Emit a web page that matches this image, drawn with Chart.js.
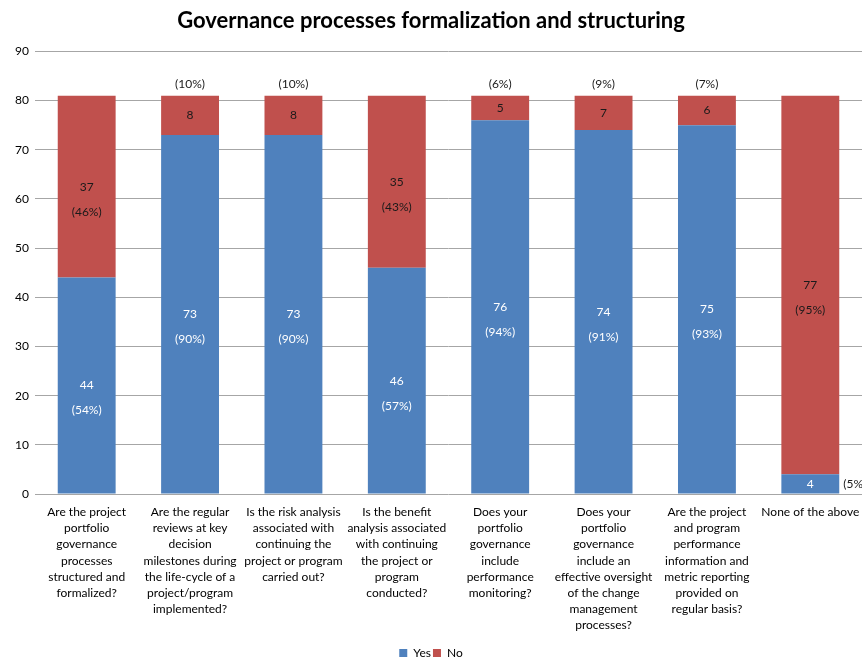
<!DOCTYPE html>
<html>
<head>
<meta charset="utf-8">
<script src="https://cdn.jsdelivr.net/npm/chart.js@4"></script>
<style>
  html, body { margin: 0; padding: 0; background: #fff; }
  #wrap { width: 862px; height: 657px; position: relative; }
</style>
</head>
<body>
<div id="wrap"><canvas id="c"></canvas></div>
<script>
const categories = [
  ["Are the project", "portfolio", "governance", "processes", "structured and", "formalized?"],
  ["Are the regular", "reviews at key", "decision", "milestones during", "the life-cycle of a", "project/program", "implemented?"],
  ["Is the risk analysis", "associated with", "continuing the", "project or program", "carried out?"],
  ["Is the benefit", "analysis associated", "with continuing", "the project or", "program", "conducted?"],
  ["Does your", "portfolio", "governance", "include", "performance", "monitoring?"],
  ["Does your", "portfolio", "governance", "include an", "effective oversight", "of the change", "management", "processes?"],
  ["Are the project", "and program", "performance", "information and", "metric reporting", "provided on", "regular basis?"],
  ["None of the above"]
];
const yesValues = [44, 73, 73, 46, 76, 74, 75, 4];
const noValues  = [37, 8, 8, 35, 5, 7, 6, 77];
const yesPercent = [54, 90, 90, 57, 94, 91, 93, 5];
const noPercent  = [46, 10, 10, 43, 6, 9, 7, 95];
const yTicks = [0, 10, 20, 30, 40, 50, 60, 70, 80, 90];

const FONT = "Lato, 'Liberation Sans', sans-serif";

const labelPlugin = {
  id: 'barLabels',
  afterDatasetsDraw(chart) {
    const ctx = chart.ctx;
    ctx.save();
    ctx.font = "12px " + FONT;
    ctx.textAlign = 'center';
    ctx.textBaseline = 'middle';
    chart.data.datasets.forEach((ds, di) => {
      const meta = chart.getDatasetMeta(di);
      const pcts = di === 0 ? yesPercent : noPercent;
      meta.data.forEach((bar, i) => {
        const top = Math.min(bar.y, bar.base);
        const bot = Math.max(bar.y, bar.base);
        const h = bot - top;
        const cy = (top + bot) / 2;
        ctx.fillStyle = di === 0 ? '#ffffff' : '#1a1a1a';
        ctx.fillText(String(ds.data[i]), bar.x, cy);
        const pText = '(' + pcts[i] + '%)';
        if (h > 50) {
          ctx.fillText(pText, bar.x, cy + 25);
        } else if (di === 1) {
          ctx.fillStyle = '#1a1a1a';
          ctx.fillText(pText, bar.x, top - 12);
        } else {
          ctx.fillStyle = '#1a1a1a';
          ctx.textAlign = 'left';
          ctx.fillText(pText, bar.x + bar.width / 2 + 4, cy);
          ctx.textAlign = 'center';
        }
      });
    });
    ctx.restore();
  }
};

new Chart(document.getElementById('c'), {
  type: 'bar',
  data: {
    labels: categories,
    datasets: [
      { label: 'Yes', data: yesValues, backgroundColor: '#4F81BD', borderWidth: 0 },
      { label: 'No', data: noValues, backgroundColor: '#C0504D', borderWidth: 0 }
    ]
  },
  options: {
    responsive: true,
    maintainAspectRatio: false,
    animation: false,
    layout: { padding: { left: 0, right: 0, top: 8, bottom: -12 } },
    datasets: { bar: { categoryPercentage: 0.56, barPercentage: 1.0 } },
    plugins: {
      title: {
        display: true,
        text: 'Governance processes formalization and structuring',
        color: '#000',
        font: { family: FONT, size: 22, weight: 'bold' },
        padding: { top: 0, bottom: 17 }
      },
      legend: {
        position: 'bottom',
        labels: {
          boxWidth: 8, boxHeight: 8, color: '#000',
          font: { family: FONT, size: 12 },
          padding: 2
        }
      },
      tooltip: { enabled: false }
    },
    scales: {
      x: {
        stacked: true,
        afterFit(scale) { scale.paddingRight = 0; scale.paddingLeft = 0; scale.height = 151; },
        grid: { display: false, drawTicks: false },
        border: { display: false },
        ticks: {
          color: '#000', autoSkip: false, maxRotation: 0, minRotation: 0,
          padding: 10,
          font: { family: FONT, size: 12, lineHeight: 1.35 }
        }
      },
      y: {
        stacked: true,
        min: 0, max: 90,
        afterFit(scale) { scale.width = 35; },
        afterBuildTicks(scale) { scale.ticks = yTicks.map(v => ({ value: v })); },
        grid: { color: '#a6a6a6', lineWidth: 1, drawTicks: false },
        border: { display: false },
        ticks: {
          color: '#000', padding: 6,
          font: { family: FONT, size: 12 }
        }
      }
    }
  },
  plugins: [labelPlugin]
});
</script>
</body>
</html>
